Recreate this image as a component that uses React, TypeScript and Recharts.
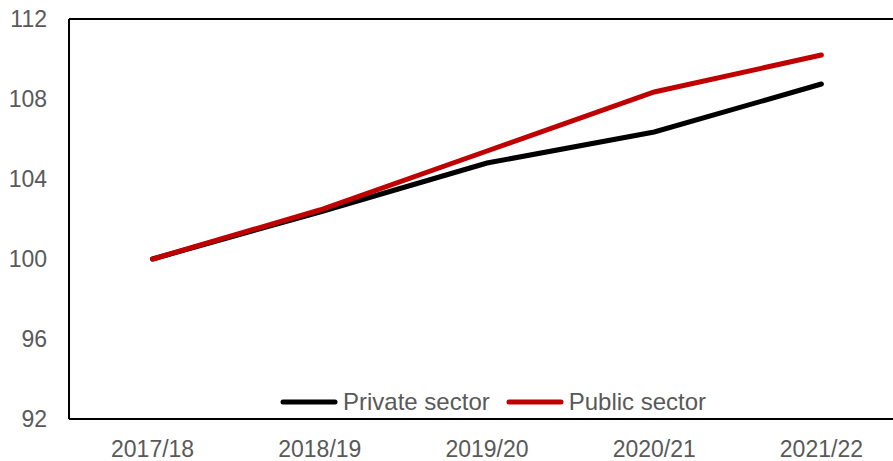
import { LineChart, Line, XAxis, YAxis, ReferenceLine } from 'recharts'

const years = ['2017/18', '2018/19', '2019/20', '2020/21', '2021/22']
const privateSector = [100, 102.35, 104.8, 106.35, 108.75]
const publicSector = [100, 102.45, 105.4, 108.35, 110.2]
const yTicks = [92, 96, 100, 104, 108, 112]

const data = years.map((year, i) => ({
  year,
  private: privateSector[i],
  public: publicSector[i],
}))

const font = '"Liberation Sans", Arial, sans-serif'
const textGrey = '#595959'

const legendItems = [
  { name: 'Private sector', color: '#000000' },
  { name: 'Public sector', color: '#C00000' },
]

// legend sits inside the plot area, so draw it as an overlay rather than letting it take space
function SectorLegend() {
  return (
    <div
      style={{
        position: 'absolute',
        top: 388,
        left: 280,
        display: 'flex',
        alignItems: 'center',
        fontFamily: font,
        fontSize: 24,
        color: textGrey,
      }}
    >
      {legendItems.map((item, i) => (
        <div key={item.name} style={{ display: 'flex', alignItems: 'center', marginLeft: i ? 16 : 0 }}>
          <svg width={58} height={10} style={{ marginRight: 5 }}>
            <line x1={3} y1={5} x2={55} y2={5} stroke={item.color} strokeWidth={5} strokeLinecap="round" />
          </svg>
          <span style={{ lineHeight: '27px' }}>{item.name}</span>
        </div>
      ))}
    </div>
  )
}

export default function App() {
  return (
    <div style={{ position: 'absolute', left: 0, top: 0, width: 893, height: 461, overflow: 'hidden', background: '#fff' }}>
      <LineChart width={905} height={461} data={data} margin={{ top: 19, right: 0, bottom: 0, left: 0 }}>
        <XAxis
          dataKey="year"
          height={42}
          padding={{ left: 83.6, right: 83.6 }}
          tickLine={false}
          axisLine={{ stroke: '#000', strokeWidth: 2 }}
          tick={{ fill: textGrey, fontSize: 23, fontFamily: font }}
          tickMargin={16}
          interval={0}
        />
        <YAxis
          domain={[92, 112]}
          ticks={yTicks}
          width={69}
          tickLine={false}
          axisLine={{ stroke: '#000', strokeWidth: 2 }}
          tick={{ fill: textGrey, fontSize: 23, fontFamily: font }}
          tickMargin={16}
        />
        <ReferenceLine y={112} stroke="#000" strokeWidth={2} />
        <Line
          type="linear"
          dataKey="private"
          name="Private sector"
          stroke="#000000"
          strokeWidth={5}
          strokeLinecap="round"
          dot={false}
          isAnimationActive={false}
        />
        <Line
          type="linear"
          dataKey="public"
          name="Public sector"
          stroke="#C00000"
          strokeWidth={5}
          strokeLinecap="round"
          dot={false}
          isAnimationActive={false}
        />
      </LineChart>
      <SectorLegend />
    </div>
  )
}
